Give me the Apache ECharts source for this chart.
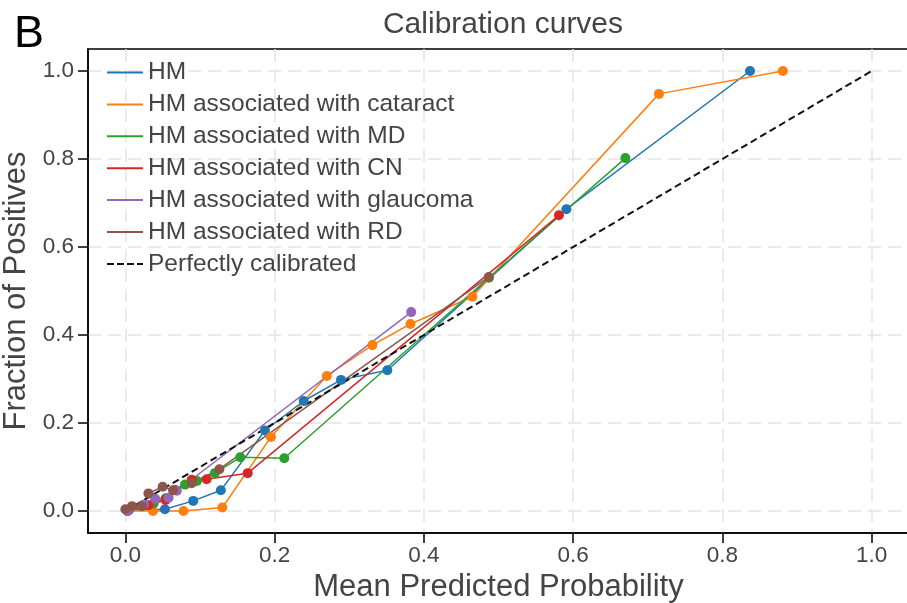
<!DOCTYPE html>
<html>
<head>
<meta charset="utf-8">
<script src="https://cdn.jsdelivr.net/npm/echarts@6/dist/echarts.min.js"></script>
<style>
html,body{margin:0;padding:0;background:#fff;}
#chart{width:907px;height:603px;}
</style>
</head>
<body>
<div id="chart"></div>
<script>
// ---- data ----
const tickValues = [0.0, 0.2, 0.4, 0.6, 0.8, 1.0];

const seriesNames = [
  'HM',
  'HM associated with cataract',
  'HM associated with MD',
  'HM associated with CN',
  'HM associated with glaucoma',
  'HM associated with RD'
];
const refName = 'Perfectly calibrated';

const hmX  = [0.003, 0.053, 0.091, 0.128, 0.187, 0.239, 0.289, 0.351, 0.591, 0.837];
const hmY  = [0.002, 0.004, 0.023, 0.047, 0.183, 0.250, 0.298, 0.320, 0.686, 1.000];

const catX = [0.003, 0.037, 0.078, 0.130, 0.195, 0.270, 0.331, 0.382, 0.465, 0.715, 0.881];
const catY = [0.000, 0.000, 0.000, 0.008, 0.168, 0.307, 0.377, 0.425, 0.487, 0.948, 1.000];

const mdX  = [0.005, 0.038, 0.054, 0.080, 0.096, 0.120, 0.154, 0.213, 0.487, 0.670];
const mdY  = [0.002, 0.017, 0.029, 0.060, 0.068, 0.086, 0.122, 0.120, 0.530, 0.802];

const cnX  = [0.003, 0.031, 0.054, 0.067, 0.089, 0.109, 0.164, 0.581];
const cnY  = [0.000, 0.013, 0.025, 0.048, 0.071, 0.072, 0.086, 0.672];

const glX  = [0.003, 0.025, 0.040, 0.058, 0.069, 0.383];
const glY  = [0.000, 0.015, 0.028, 0.030, 0.046, 0.452];

const rdX  = [0.000, 0.009, 0.022, 0.031, 0.050, 0.064, 0.089, 0.126, 0.487];
const rdY  = [0.004, 0.011, 0.011, 0.040, 0.055, 0.047, 0.063, 0.095, 0.532];

const refX = [0.0, 1.0];
const refY = [0.0, 1.0];

const colors = ['#1f77b4', '#ff7f0e', '#2ca02c', '#d62728', '#9467bd', '#8c564b'];

// ---- build ----
const pairs = (xs, ys) => xs.map((x, i) => [x, ys[i]]);
const allX = [hmX, catX, mdX, cnX, glX, rdX];
const allY = [hmY, catY, mdY, cnY, glY, rdY];

const FONT = '"Liberation Sans", Arial, Helvetica, sans-serif';
const TXT = '#444444';

const series = seriesNames.map((name, i) => ({
  name: name,
  type: 'line',
  data: pairs(allX[i], allY[i]),
  symbol: 'circle',
  symbolSize: 10,
  showSymbol: true,
  lineStyle: { width: 1.5, color: colors[i] },
  itemStyle: { color: colors[i] },
  emphasis: { disabled: true },
  animation: false
}));
series.push({
  name: refName,
  type: 'line',
  data: pairs(refX, refY),
  symbol: 'none',
  lineStyle: { width: 2, color: '#111111', type: [7, 4] },
  itemStyle: { color: '#111111' },
  emphasis: { disabled: true },
  animation: false,
  z: 3
});

const solidIcon = 'path://M0 0H36V2H0Z';
const dashIcon = 'path://M0 0H7V2H0Z M10 0H17V2H10Z M20 0H27V2H20Z M30 0H36V2H30Z';

const legendData = seriesNames.map(n => ({ name: n, icon: solidIcon }))
  .concat([{ name: refName, icon: dashIcon }]);

const axisCommon = {
  type: 'value',
  min: -0.05,
  max: 1.05,
  axisLine: { show: true, onZero: false, lineStyle: { color: '#000', width: 1.5 } },
  axisTick: { show: true, length: 10, customValues: tickValues, lineStyle: { color: '#000', width: 1.5 } },
  axisLabel: {
    customValues: tickValues,
    formatter: v => v.toFixed(1),
    color: TXT, fontSize: 22.5, fontFamily: FONT, margin: 12
  },
  splitLine: { show: true, lineStyle: { color: '#e3e3e3', width: 1.5, type: [13, 7] } },
  nameTextStyle: { color: TXT, fontSize: 31, fontFamily: FONT }
};

const chart = echarts.init(document.getElementById('chart'), null, { renderer: 'canvas' });
chart.setOption({
  animation: false,
  backgroundColor: '#ffffff',
  title: [
    { text: 'Calibration curves', left: 498, top: 5, textAlign: 'center',
      textStyle: { color: TXT, fontSize: 30, fontWeight: 'normal', fontFamily: FONT } },
    { text: 'B', left: 9, top: 7,
      textStyle: { color: '#000', fontSize: 45, fontWeight: 'normal', fontFamily: FONT } }
  ],
  grid: {
    left: 88, top: 49, width: 821, height: 484,
    outerBoundsMode: 'none', containLabel: false,
    show: true, borderColor: '#000', borderWidth: 1.5, backgroundColor: 'transparent'
  },
  legend: {
    data: legendData,
    orient: 'vertical',
    left: 107, top: 60, padding: 0,
    itemWidth: 36, itemHeight: 2,
    itemGap: 6.9,
    textStyle: { color: TXT, fontSize: 24.5, fontFamily: FONT, lineHeight: 24 },
    selectedMode: false
  },
  xAxis: Object.assign({}, axisCommon, {
    name: 'Mean Predicted Probability', nameLocation: 'middle', nameGap: 36,
    axisLabel: Object.assign({}, axisCommon.axisLabel, { margin: 11 })
  }),
  yAxis: Object.assign({}, axisCommon, {
    name: 'Fraction of Positives', nameLocation: 'middle', nameGap: 54,
    axisLabel: Object.assign({}, axisCommon.axisLabel, { margin: 14 })
  }),
  series: series
});
</script>
</body>
</html>
